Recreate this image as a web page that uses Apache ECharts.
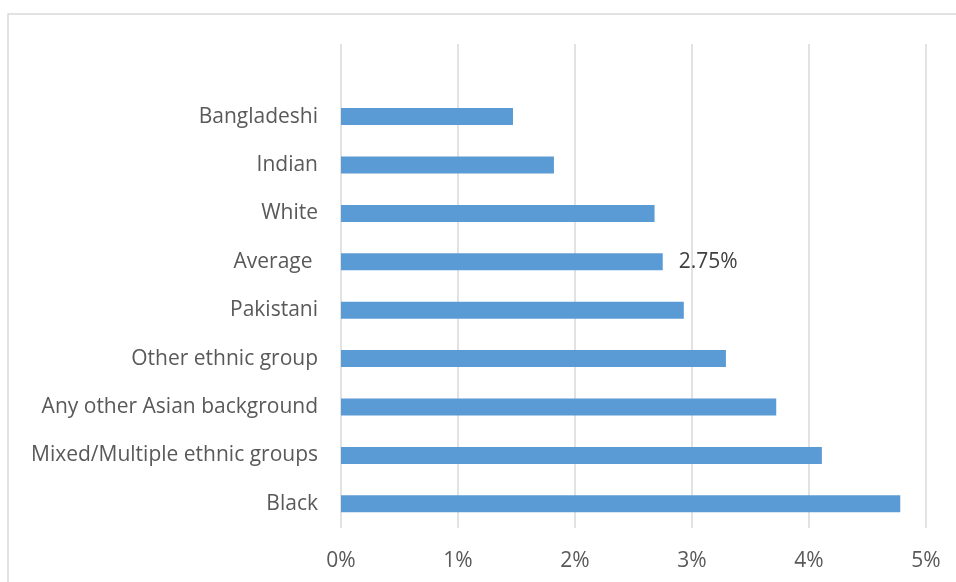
<!DOCTYPE html>
<html>
<head>
<meta charset="utf-8">
<script src="https://cdn.jsdelivr.net/npm/echarts@6/dist/echarts.min.js"></script>
<style>
  html, body { margin: 0; padding: 0; background: #fff; }
  #chart { width: 956px; height: 582px; }
</style>
</head>
<body>
<div id="chart"></div>
<script>
// categories listed bottom to top
var categories = ['Black', 'Mixed/Multiple ethnic groups', 'Any other Asian background',
    'Other ethnic group', 'Pakistani', 'Average ', 'White', 'Indian', 'Bangladeshi'];
var rates = [4.78, 4.11, 3.72, 3.29, 2.93, 2.75, 2.68, 1.82, 1.47];
var labelled = 'Average ';
var xTicks = [0, 1, 2, 3, 4, 5];

var myChart = echarts.init(document.getElementById('chart'));

var seriesData = rates.map(function (v, i) {
    var item = { value: v };
    if (categories[i] === labelled) {
        item.label = {
            show: true,
            position: 'right',
            distance: 16,
            formatter: function (p) { return p.value.toFixed(2) + '%'; },
            color: '#404040',
            fontSize: 21,
            fontFamily: 'Open Sans'
        };
    }
    return item;
});

var option = {
    animation: false,
    graphic: [{
        type: 'rect',
        shape: { x: 8, y: 14, width: 1000, height: 700 },
        style: { fill: 'none', stroke: '#d9d9d9', lineWidth: 1.5 },
        silent: true,
        z: -1
    }],
    grid: {
        left: 341,
        right: 30,
        top: 44,
        bottom: 54
    },
    xAxis: {
        type: 'value',
        min: xTicks[0],
        max: xTicks[xTicks.length - 1],
        interval: 1,
        axisLine: { show: false },
        axisTick: { show: false },
        splitLine: { lineStyle: { color: '#d9d9d9', width: 1.5 } },
        axisLabel: {
            margin: 23,
            color: '#595959',
            fontSize: 21,
            fontFamily: 'Open Sans',
            formatter: function (v) { return v + '%'; }
        }
    },
    yAxis: {
        type: 'category',
        data: categories,
        max: categories.length,
        axisLine: { show: false },
        axisTick: { show: false },
        axisLabel: {
            margin: 23,
            color: '#595959',
            fontSize: 21,
            fontFamily: 'Open Sans'
        }
    },
    series: [{
        type: 'bar',
        data: seriesData,
        barWidth: 17,
        itemStyle: { color: '#5b9bd5' }
    }]
};

myChart.setOption(option);
</script>
</body>
</html>
